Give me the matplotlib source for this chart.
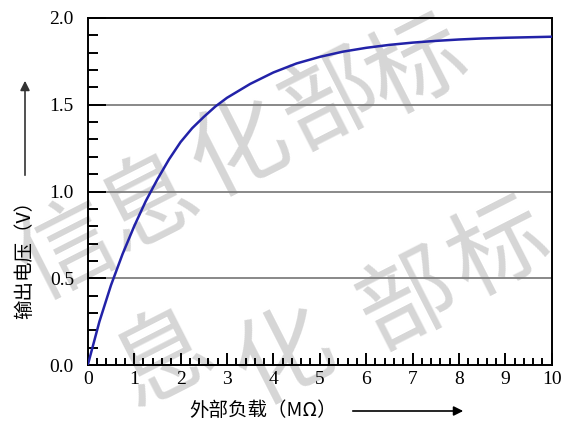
import numpy as np
import matplotlib
matplotlib.use('Agg')
import matplotlib.pyplot as plt
from matplotlib.ticker import MultipleLocator

# values
load_mohm = [0, 0.25, 0.5, 0.75, 1.0, 1.25, 1.5, 1.75, 2.0, 2.25, 2.5, 2.75, 3.0,
             3.5, 4.0, 4.5, 5.0, 5.5, 6.0, 6.5, 7.0, 7.5, 8.0, 8.5, 9.0, 9.5, 10.0]
out_volt = [0, 0.25, 0.46, 0.64, 0.80, 0.945, 1.07, 1.185, 1.285, 1.365, 1.43, 1.49, 1.54,
            1.62, 1.686, 1.738, 1.776, 1.806, 1.828, 1.845, 1.858, 1.868, 1.876, 1.882, 1.886, 1.889, 1.892]

grid_levels = [0.5, 1.0, 1.5]
x_ticks = [0, 1, 2, 3, 4, 5, 6, 7, 8, 9, 10]
y_ticks = [0.0, 0.5, 1.0, 1.5, 2.0]
xlabel = '外部负载（MΩ）'
ylabel = '输出电压（V）'

# watermark characters and where they sit (pixels from top-left)
wm_chars = ['信', '息', '化', '部', '标', '息', '化', '部', '标']
wm_px = [(68, 252), (150, 205), (240, 150), (330, 102), (418, 68),
         (165, 360), (285, 358), (408, 302), (500, 250)]

serif = 'Liberation Serif'
cjk = ['Noto Sans CJK SC', 'DejaVu Sans']

W, H = 570, 428
fig = plt.figure(figsize=(5.7, 4.28), dpi=100)
ax = fig.add_axes([0.154, 0.147, 0.814, 0.811])

# faint watermark, kept under the axes
for ch, (px, py) in zip(wm_chars, wm_px):
    fig.text(px / W, 1 - py / H, ch, fontsize=70, color='#d6d6d6', rotation=27,
             family=cjk, zorder=-1, ha='center', va='center')

ax.set_facecolor('none')
fig.patch.set_facecolor('white')

for g in grid_levels:
    ax.axhline(g, color='#7f7f7f', lw=1.3, zorder=1)

ax.plot(load_mohm, out_volt, color='#2222a8', lw=1.8, zorder=3)

ax.set_xlim(0, 10)
ax.set_ylim(0, 2.0)
ax.set_xticks(x_ticks)
ax.set_yticks(y_ticks)
ax.set_yticklabels(['%.1f' % v for v in y_ticks])
ax.xaxis.set_minor_locator(MultipleLocator(0.2))
ax.yaxis.set_minor_locator(MultipleLocator(0.1))

ax.tick_params(axis='x', which='major', direction='in', length=9, width=1.4,
               pad=4, labelsize=14, top=False)
ax.tick_params(axis='x', which='minor', direction='in', length=5, width=1.4, top=False)
ax.tick_params(axis='y', which='major', direction='in', length=13, width=1.4,
               pad=10, labelsize=14, right=False)
ax.tick_params(axis='y', which='minor', direction='in', length=7, width=1.4, right=False)
for lab in ax.get_xticklabels() + ax.get_yticklabels():
    lab.set_family(serif)

for sp in ax.spines.values():
    sp.set_linewidth(1.4)
    sp.set_color('black')

# axis labels with arrows
fig.text(263 / W, 1 - 411 / H, xlabel, fontsize=14, family=cjk, ha='center', va='center')
fig.text(25 / W, 1 - 255 / H, ylabel, fontsize=14, family=cjk, ha='center', va='center',
         rotation=90)
ax.annotate('', xy=(466 / W, 1 - 411 / H), xytext=(350 / W, 1 - 411 / H),
            xycoords='figure fraction',
            arrowprops=dict(arrowstyle='-|>', color='black', lw=1.2, mutation_scale=14))
ax.annotate('', xy=(25 / W, 1 - 78 / H), xytext=(25 / W, 1 - 178 / H),
            xycoords='figure fraction',
            arrowprops=dict(arrowstyle='-|>', color='#333333', lw=1.2, mutation_scale=14))

fig.savefig('out.png', dpi=100)
